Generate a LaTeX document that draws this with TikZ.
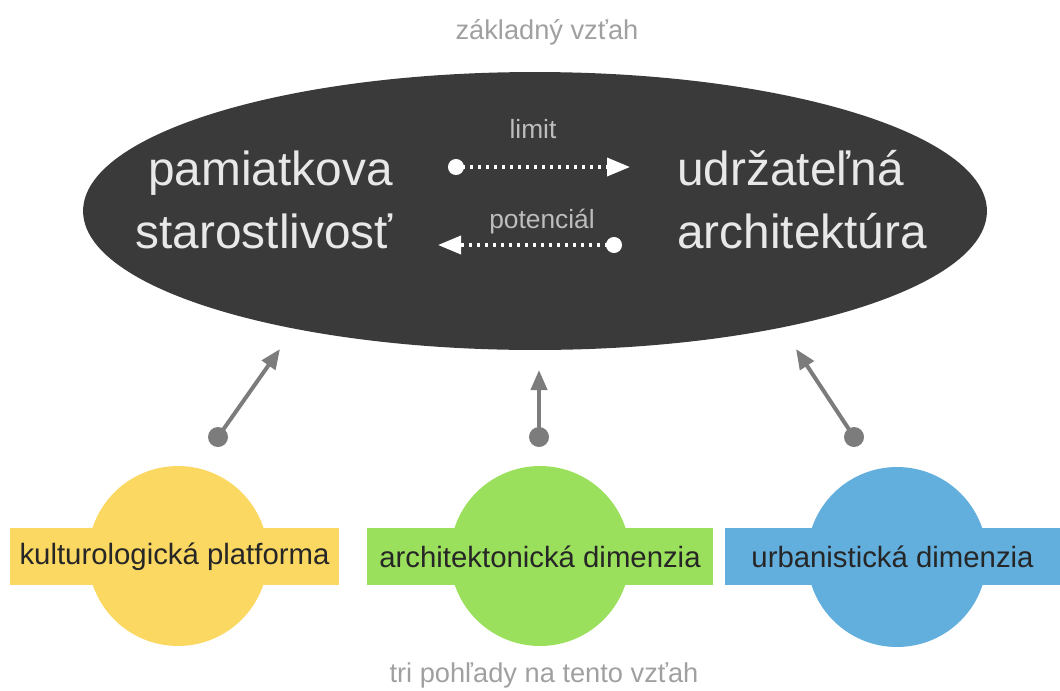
\documentclass[tikz,border=0pt]{standalone}
\usepackage{fontspec}
\setmainfont{Liberation Sans}
\usetikzlibrary{shapes.geometric,arrows.meta}
\definecolor{ellc}{HTML}{3A3A3A}
\definecolor{yelc}{HTML}{FBD862}
\definecolor{grnc}{HTML}{9BE05C}
\definecolor{bluc}{HTML}{62AEDD}
\definecolor{arrc}{HTML}{7C7C7C}
\definecolor{capc}{HTML}{A0A0A0}
\definecolor{maintc}{HTML}{E8E8E8}
\definecolor{lblc}{HTML}{BDBDBD}
\definecolor{bartc}{HTML}{262626}
\begin{document}
\begin{tikzpicture}[x=0.02cm,y=-0.02cm,
  bigtext/.style={text=maintc,font=\fontsize{27.2pt}{32pt}\selectfont,inner sep=0},
  smalllbl/.style={text=lblc,font=\fontsize{15pt}{18pt}\selectfont,inner sep=0,anchor=base},
  captxt/.style={text=capc,font=\fontsize{15.5pt}{18pt}\selectfont,inner sep=0,anchor=base},
  disc/.style={circle,minimum size=3.6cm,inner sep=0},
  barbox/.style={minimum height=1.14cm,inner sep=0,text=bartc,font=\fontsize{16.7pt}{20pt}\selectfont},
  whitearr/.style={white,line width=0.07cm,dash pattern=on 0.06cm off 0.1cm,
     {Circle[length=0.32cm]}-{Triangle[length=0.46cm,width=0.36cm]}},
  grayarr/.style={arrc,line width=0.08cm,-{Triangle[length=0.4cm,width=0.32cm]}},
  graydot/.style={circle,fill=arrc,minimum size=0.4cm,inner sep=0}]
\useasboundingbox (0,0) rectangle (1060,690);

% top caption
\node[captxt] (title) at (547,39) {základný vzťah};

% central ellipse
\node[ellipse,fill=ellc,minimum width=18.08cm,minimum height=5.56cm,inner sep=0] (rel) at (535,211) {};

\node[bigtext,anchor=base east] (pam1) at (393,185) {pamiatkova};
\node[bigtext,anchor=base east] (pam2) at (393,248) {starostlivosť};
\node[bigtext,anchor=base west] (udr1) at (677,185) {udržateľná};
\node[bigtext,anchor=base west] (udr2) at (677,248) {architektúra};

\node[smalllbl] (limit) at (533,138) {limit};
\node[smalllbl] (pot) at (542,228) {potenciál};

\coordinate (la) at (448,167);
\coordinate (lb) at (630,167);
\coordinate (pa) at (622,245);
\coordinate (pb) at (438,245);
\draw[whitearr] (la) -- (lb);
\draw[whitearr] (pa) -- (pb);

% three views
\node[disc,fill=yelc] (ycirc) at (178,556) {};
\node[disc,fill=grnc] (gcirc) at (540,556) {};
\node[disc,fill=bluc] (bcirc) at (897,557) {};
\node[barbox,fill=yelc,minimum width=6.58cm] (ybar) at (174.5,556.5) {kulturologická platforma};
\node[barbox,fill=grnc,minimum width=6.92cm] (gbar) at (540,556.5) {architektonická dimenzia};
\node[barbox,fill=bluc,minimum width=6.7cm] (bbar) at (892.5,556.5) {urbanistická dimenzia};

% gray arrows
\node[graydot] (d1) at (218,437) {};
\node[graydot] (d2) at (539,437) {};
\node[graydot] (d3) at (854,437) {};
\coordinate (t1) at (280,349);
\coordinate (t2) at (539,370);
\coordinate (t3) at (796,349);
\draw[grayarr] (d1.center) -- (t1);
\draw[grayarr] (d2.center) -- (t2);
\draw[grayarr] (d3.center) -- (t3);

% bottom caption
\node[captxt] (sub) at (544,682) {tri pohľady na tento vzťah};
\end{tikzpicture}
\end{document}
